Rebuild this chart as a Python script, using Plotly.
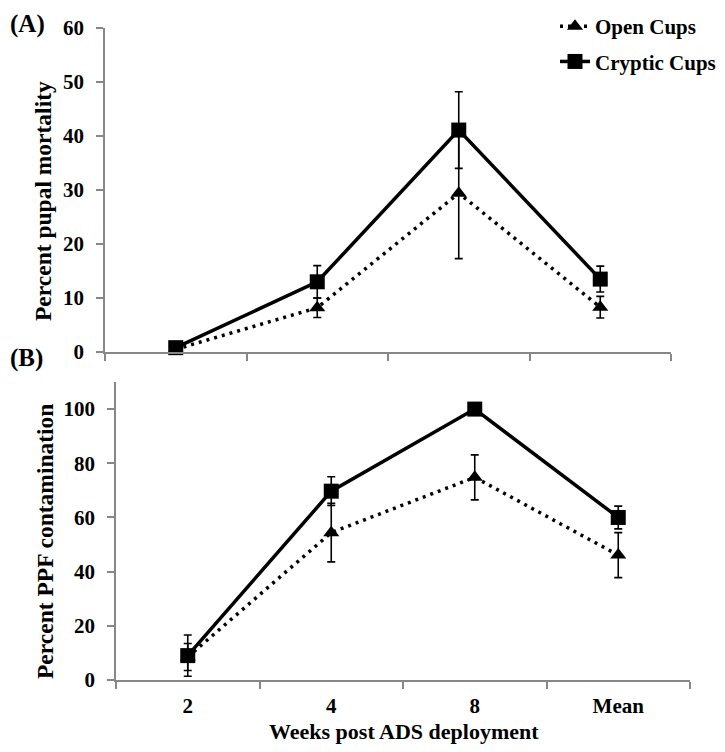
import plotly.graph_objects as go

# ---------------- data ----------------
categories = ["2", "4", "8", "Mean"]

open_mortality = [0.5, 8.2, 29.4, 8.3]
open_mortality_err = [0.0, 1.8, 12.1, 2.0]
cryptic_mortality = [0.8, 13.0, 41.1, 13.5]
cryptic_mortality_err = [0.0, 3.0, 7.1, 2.4]

open_ppf = [8.5, 54.4, 74.8, 46.1]
open_ppf_err = [5.0, 10.8, 8.3, 8.3]
cryptic_ppf = [9.0, 69.7, 100.0, 60.0]
cryptic_ppf_err = [7.6, 5.3, 0.0, 4.2]

series_names = ["Open Cups", "Cryptic Cups"]
x_title = "Weeks post ADS deployment"
y_title_a = "Percent pupal mortality"
y_title_b = "Percent PPF contamination"
significance = "*"
sig_index = 2

# ---------------- layout helpers ----------------
W, H = 725, 752
OFF = 8  # default page body margin
FONT = "Liberation Serif"
AXIS_GREY = "#878787"


def px_x(p):
    return (p - OFF) / W


def px_y(p):
    return 1 - (p - OFF) / H


open_style = dict(mode="lines+markers",
                  line=dict(color="black", width=3.5, dash="3px,5px"),
                  marker=dict(symbol="triangle-up", size=14, color="black"))
cryptic_style = dict(mode="lines+markers",
                     line=dict(color="black", width=3.5),
                     marker=dict(symbol="square", size=15, color="black"))
err_style = dict(type="data", color="black", thickness=1.6, width=4)

fig = go.Figure()

fig.add_trace(go.Scatter(x=categories, y=open_mortality, name=series_names[0],
                         error_y=dict(array=open_mortality_err, **err_style),
                         xaxis="x", yaxis="y", cliponaxis=False,
                         legendgroup="a", **open_style))
fig.add_trace(go.Scatter(x=categories, y=cryptic_mortality, name=series_names[1],
                         error_y=dict(array=cryptic_mortality_err, **err_style),
                         xaxis="x", yaxis="y", cliponaxis=False,
                         legendgroup="b", **cryptic_style))
fig.add_trace(go.Scatter(x=categories, y=open_ppf, name=series_names[0],
                         error_y=dict(array=open_ppf_err, **err_style),
                         xaxis="x2", yaxis="y2", cliponaxis=False,
                         showlegend=False, legendgroup="a", **open_style))
fig.add_trace(go.Scatter(x=categories, y=cryptic_ppf, name=series_names[1],
                         error_y=dict(array=cryptic_ppf_err, **err_style),
                         xaxis="x2", yaxis="y2", cliponaxis=False,
                         showlegend=False, legendgroup="b", **cryptic_style))

common_x = dict(type="category", range=[-0.5, 3.5], tickson="boundaries",
                ticks="outside", ticklen=7, tickwidth=1.5, tickcolor=AXIS_GREY,
                showline=True, linecolor=AXIS_GREY, linewidth=1.5,
                showgrid=False, zeroline=False, fixedrange=True, automargin=False,
                tickfont=dict(family=FONT, size=21, color="black", weight="bold"))
common_y = dict(ticks="outside", ticklen=7, tickwidth=1.5, tickcolor=AXIS_GREY,
                showline=True, linecolor=AXIS_GREY, linewidth=1.5,
                showgrid=False, zeroline=False, fixedrange=True, automargin=False,
                ticklabelstandoff=8,
                tickfont=dict(family=FONT, size=21, color="black", weight="bold"))

fig.update_layout(
    width=W, height=H,
    margin=dict(l=0, r=0, t=0, b=0, autoexpand=False),
    paper_bgcolor="white", plot_bgcolor="white",
    font=dict(family=FONT, color="black"),
    xaxis=dict(domain=[px_x(105), px_x(671)], anchor="y", showticklabels=False, **common_x),
    yaxis=dict(domain=[px_y(352), px_y(28)], anchor="x", range=[0, 60], dtick=10, **common_y),
    xaxis2=dict(domain=[px_x(116), px_x(690)], anchor="y2", showticklabels=True,
                ticklabelstandoff=6, **common_x),
    yaxis2=dict(domain=[px_y(680), px_y(382)], anchor="x2", range=[0, 110],
                tickvals=[0, 20, 40, 60, 80, 100], **common_y),
    legend=dict(x=px_x(555), y=px_y(6), xanchor="left", yanchor="top",
                bgcolor="rgba(0,0,0,0)", traceorder="grouped", tracegroupgap=5,
                font=dict(family=FONT, size=21, color="black", weight="bold")),
    showlegend=True,
)

ann_font = dict(family=FONT, size=22, color="black", weight="bold")
ytitle_font = dict(family=FONT, size=23.5, color="black", weight="bold")
label_font = dict(family=FONT, size=25, color="black", weight="bold")
annotations = [
    dict(text="(A)", x=px_x(8), y=px_y(8), xanchor="left", yanchor="top",
         font=label_font),
    dict(text="(B)", x=px_x(8), y=px_y(358), xanchor="left", yanchor="middle",
         font=label_font),
    dict(text=y_title_a, x=px_x(43), y=px_y(201), textangle=-90,
         xanchor="center", yanchor="middle", font=ytitle_font),
    dict(text=y_title_b, x=px_x(45), y=px_y(542), textangle=-90,
         xanchor="center", yanchor="middle", font=ytitle_font),
    dict(text=x_title, x=px_x(404), y=px_y(731), xanchor="center", yanchor="middle",
         font=ann_font),
]
for a in annotations:
    a.update(xref="paper", yref="paper", showarrow=False)

annotations.append(dict(
    text=significance, xref="x", yref="y",
    x=categories[sig_index],
    y=cryptic_mortality[sig_index] + cryptic_mortality_err[sig_index],
    yshift=6, yanchor="bottom", xanchor="center", showarrow=False,
    font=dict(family=FONT, size=20, color="black", weight="bold")))

fig.update_layout(annotations=annotations)

fig.write_html("out.html")
